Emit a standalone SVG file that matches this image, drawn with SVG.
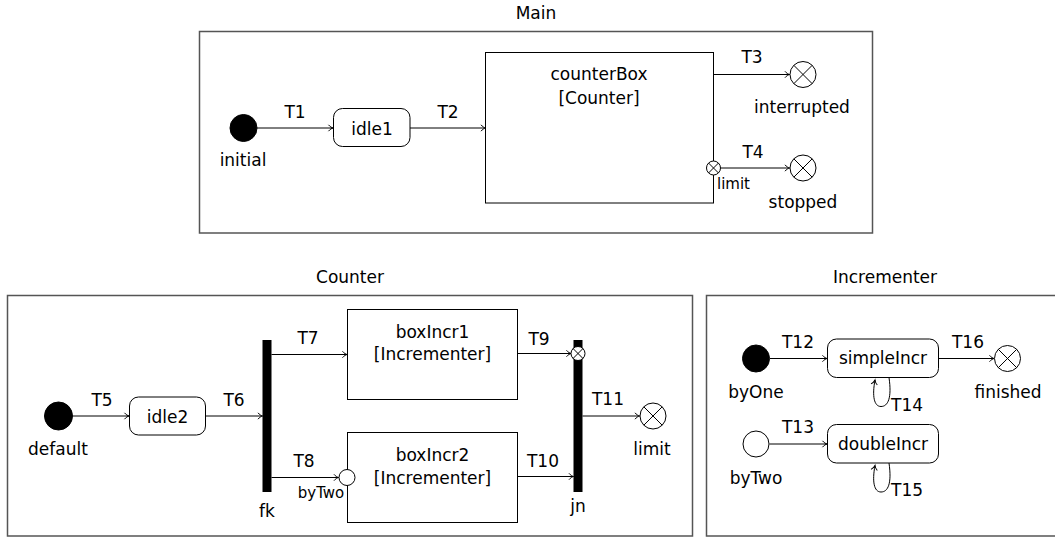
<svg xmlns="http://www.w3.org/2000/svg" width="1055" height="537" viewBox="0 0 1055 537">
  <style>
    text { font-family: "DejaVu Sans", "Liberation Sans", sans-serif; font-size: 17px; fill: #000; text-anchor: middle; }
    text.small { font-size: 15px; }
    text.left { text-anchor: start; }
    .frame { fill: none; stroke: #555; stroke-width: 1.5; }
    .box { fill: #fff; stroke: #000; stroke-width: 1; }
    .state { fill: #fff; stroke: #000; stroke-width: 1; }
    .bar { fill: #000; stroke: none; }
    .initial { fill: #000; stroke: #000; stroke-width: 1; }
    .entry { fill: #fff; stroke: #000; stroke-width: 1; }
    .final { fill: #fff; stroke: #000; stroke-width: 1; }
    .cross { stroke: #000; stroke-width: 1; fill: none; }
    .edge { fill: none; stroke: #000; stroke-width: 1; marker-end: url(#tip); }
  </style>
  <defs>
    <marker id="tip" markerUnits="userSpaceOnUse" markerWidth="10" markerHeight="10" viewBox="-6 -5 7 10" refX="0" refY="0" orient="auto" overflow="visible">
      <path d="M-4.5,-3.2 C-3,-1.2 -1,-0.3 0,0 C-1,0.3 -3,1.2 -4.5,3.2" fill="none" stroke="#000" stroke-width="1"/>
    </marker>
  </defs>

  <!-- region frames -->
  <g id="frame-main">
    <rect class="frame" x="199.5" y="31.5" width="673" height="201.5"/>
    <text x="536" y="19">Main</text>
  </g>
  <g id="frame-counter">
    <rect class="frame" x="7.5" y="295.5" width="685" height="240.5"/>
    <text x="350" y="283">Counter</text>
  </g>
  <g id="frame-incrementer">
    <rect class="frame" x="706.5" y="295.5" width="358" height="240.5"/>
    <text x="885" y="283">Incrementer</text>
  </g>

  <!-- connectors -->
  <g id="connectors">
    <line class="edge" x1="257" y1="128" x2="333" y2="128"/>
    <text x="295" y="118">T1</text>
    <line class="edge" x1="410" y1="128" x2="485.5" y2="128"/>
    <text x="448" y="118">T2</text>
    <line class="edge" x1="713.5" y1="74.5" x2="789.5" y2="74.5"/>
    <text x="752" y="63">T3</text>
    <line class="edge" x1="720.5" y1="168" x2="789.5" y2="168"/>
    <text x="753" y="158">T4</text>

    <line class="edge" x1="72.5" y1="416" x2="129" y2="416"/>
    <text x="102" y="406">T5</text>
    <line class="edge" x1="205.5" y1="416" x2="262.5" y2="416"/>
    <text x="234" y="406">T6</text>
    <line class="edge" x1="271.5" y1="354.5" x2="347" y2="354.5"/>
    <text x="308" y="344">T7</text>
    <line class="edge" x1="271.5" y1="477.5" x2="338.5" y2="477.5"/>
    <text x="304" y="466.5">T8</text>
    <line class="edge" x1="517.5" y1="353.5" x2="571" y2="353.5"/>
    <text x="539" y="345">T9</text>
    <line class="edge" x1="517.5" y1="476.5" x2="573.5" y2="476.5"/>
    <text x="543" y="466.5">T10</text>
    <line class="edge" x1="582.5" y1="416" x2="639.5" y2="416"/>
    <text x="608" y="405">T11</text>

    <line class="edge" x1="770" y1="358.5" x2="827" y2="358.5"/>
    <text x="798" y="348">T12</text>
    <line class="edge" x1="769.5" y1="444" x2="827" y2="444"/>
    <text x="798" y="433">T13</text>
    <path class="edge" d="M889,377.5 C892,398 888,406.5 881,406.5 C874,406.5 872,396 875,380"/>
    <text class="left" x="891" y="411">T14</text>
    <path class="edge" d="M889,463 C892,483.5 888,492 881,492 C874,492 872,481.5 875,465.5"/>
    <text class="left" x="891" y="496">T15</text>
    <line class="edge" x1="938.5" y1="358.5" x2="994" y2="358.5"/>
    <text x="968" y="348">T16</text>
  </g>

  <!-- Main region nodes -->
  <g id="initial">
    <circle class="initial" cx="243.5" cy="128" r="13.5"/>
    <text x="243" y="166">initial</text>
  </g>
  <g id="idle1">
    <rect class="state" x="333.5" y="108.5" width="76.5" height="38" rx="9"/>
    <text x="372" y="134.5">idle1</text>
  </g>
  <g id="counterBox">
    <rect class="box" x="485.5" y="52.5" width="228" height="150.5"/>
    <text x="599" y="80">counterBox</text>
    <text x="599" y="104">[Counter]</text>
  </g>
  <g id="counterBox-limit">
    <circle class="final" cx="713.5" cy="168" r="7"/>
    <path class="cross" d="M708.5,163 L718.5,173 M718.5,163 L708.5,173"/>
    <text class="small left" x="717" y="189">limit</text>
  </g>
  <g id="interrupted">
    <circle class="final" cx="803" cy="74.5" r="13"/>
    <path class="cross" d="M793.8,65.3 L812.2,83.7 M812.2,65.3 L793.8,83.7"/>
    <text x="802" y="113">interrupted</text>
  </g>
  <g id="stopped">
    <circle class="final" cx="803" cy="168" r="13"/>
    <path class="cross" d="M793.8,158.8 L812.2,177.2 M812.2,158.8 L793.8,177.2"/>
    <text x="803" y="208">stopped</text>
  </g>

  <!-- Counter region nodes -->
  <g id="default">
    <circle class="initial" cx="58.5" cy="416" r="14"/>
    <text x="58" y="455">default</text>
  </g>
  <g id="idle2">
    <rect class="state" x="129.5" y="397" width="76" height="38" rx="9"/>
    <text x="167.5" y="423">idle2</text>
  </g>
  <g id="fk">
    <rect class="bar" x="262.5" y="340" width="9" height="152"/>
    <text x="267" y="516.5">fk</text>
  </g>
  <g id="boxIncr1">
    <rect class="box" x="347.5" y="309.5" width="170" height="90"/>
    <text x="432.5" y="337.5">boxIncr1</text>
    <text x="432.5" y="360">[Incrementer]</text>
  </g>
  <g id="boxIncr2">
    <rect class="box" x="347.5" y="432.5" width="170" height="90"/>
    <text x="432.5" y="461">boxIncr2</text>
    <text x="432.5" y="483.5">[Incrementer]</text>
  </g>
  <g id="boxIncr2-byTwo">
    <circle class="entry" cx="347" cy="477.5" r="8"/>
    <text class="small" x="321" y="498">byTwo</text>
  </g>
  <g id="jn">
    <rect class="bar" x="573.5" y="340" width="9" height="152"/>
    <text x="578" y="512">jn</text>
  </g>
  <g id="boxIncr1-finished">
    <circle class="final" cx="578" cy="353.5" r="7"/>
    <path class="cross" d="M573,348.5 L583,358.5 M583,348.5 L573,358.5"/>
  </g>
  <g id="limit">
    <circle class="final" cx="653" cy="416" r="13"/>
    <path class="cross" d="M643.8,406.8 L662.2,425.2 M662.2,406.8 L643.8,425.2"/>
    <text x="652" y="455">limit</text>
  </g>

  <!-- Incrementer region nodes -->
  <g id="byOne">
    <circle class="initial" cx="756" cy="358.5" r="13.5"/>
    <text x="756" y="397.5">byOne</text>
  </g>
  <g id="simpleIncr">
    <rect class="state" x="827.5" y="339" width="111" height="38.5" rx="9"/>
    <text x="883" y="364">simpleIncr</text>
  </g>
  <g id="finished">
    <circle class="final" cx="1007.5" cy="358.5" r="13"/>
    <path class="cross" d="M998.3,349.3 L1016.7,367.7 M1016.7,349.3 L998.3,367.7"/>
    <text x="1008" y="397.5">finished</text>
  </g>
  <g id="byTwo">
    <circle class="entry" cx="756" cy="444" r="13"/>
    <text x="756" y="483.5">byTwo</text>
  </g>
  <g id="doubleIncr">
    <rect class="state" x="827.5" y="424.5" width="111" height="38.5" rx="9"/>
    <text x="883" y="450">doubleIncr</text>
  </g>
</svg>
